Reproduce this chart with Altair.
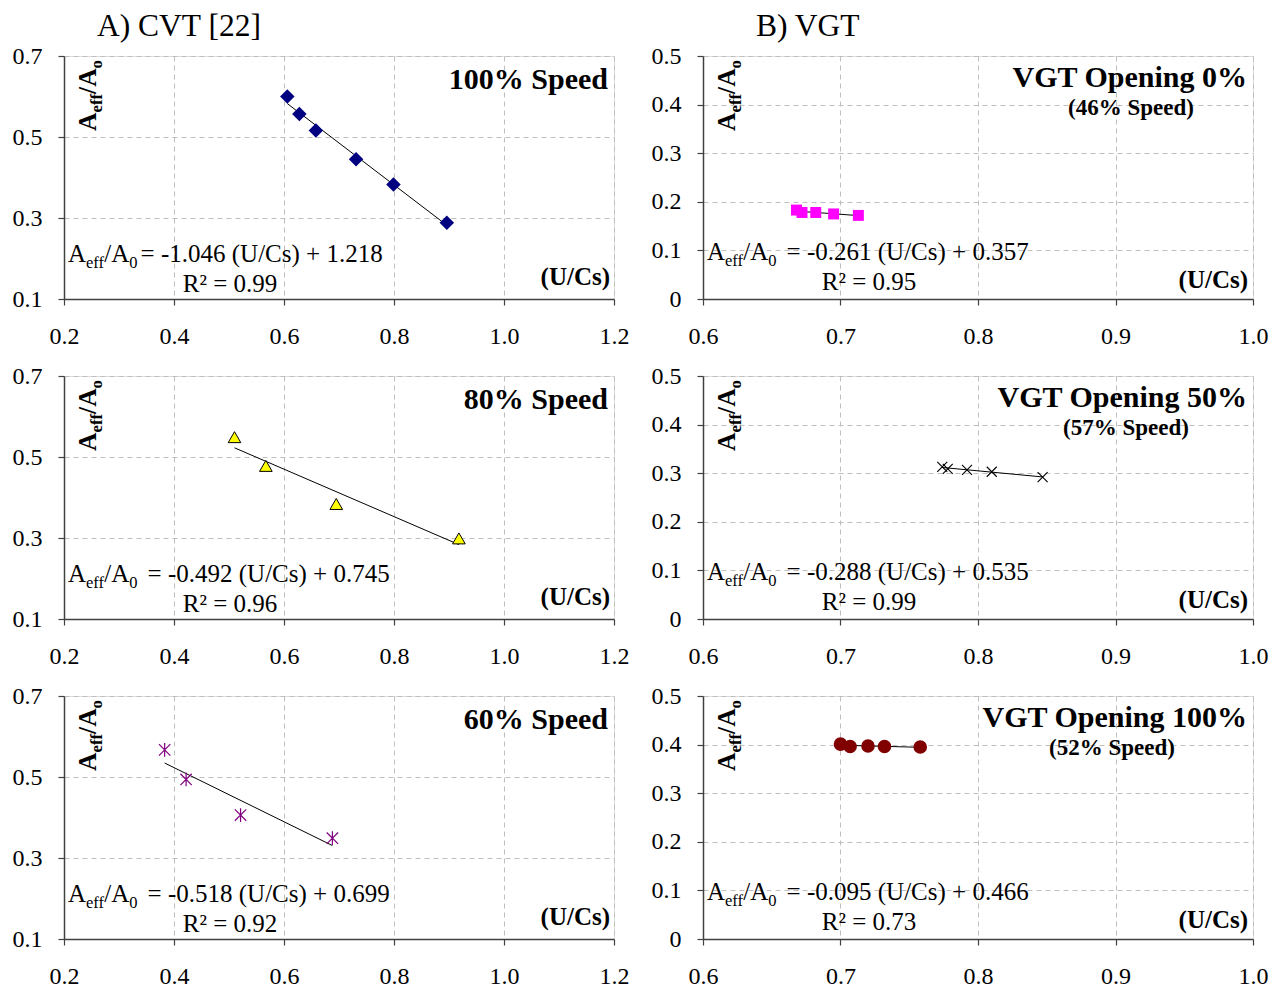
import altair as alt
import pandas as pd

# ---------------- data ----------------
a1_x = [0.606, 0.628, 0.658, 0.731, 0.799, 0.896]
a1_y = [0.600, 0.557, 0.516, 0.445, 0.383, 0.288]
a2_x = [0.510, 0.567, 0.695, 0.918]
a2_y = [0.549, 0.478, 0.384, 0.299]
a3_x = [0.383, 0.422, 0.521, 0.688]
a3_y = [0.567, 0.494, 0.406, 0.349]
b1_x = [0.668, 0.672, 0.682, 0.695, 0.713]
b1_y = [0.183, 0.178, 0.178, 0.175, 0.172]
b2_x = [0.774, 0.778, 0.792, 0.810, 0.847]
b2_y = [0.313, 0.309, 0.307, 0.303, 0.292]
b3_x = [0.700, 0.707, 0.720, 0.732, 0.758]
b3_y = [0.401, 0.396, 0.397, 0.396, 0.395]

speed_labels = ["100% Speed", "80% Speed", "60% Speed"]
vgt_labels = ["VGT Opening 0%", "VGT Opening 50%", "VGT Opening 100%"]
vgt_speed = ["(46% Speed)", "(57% Speed)", "(52% Speed)"]
eq_a = ["= -1.046 (U/Cs) + 1.218", "= -0.492 (U/Cs) + 0.745", "= -0.518 (U/Cs) + 0.699"]
eq_b = ["= -0.261 (U/Cs) + 0.357", "= -0.288 (U/Cs) + 0.535", "= -0.095 (U/Cs) + 0.466"]
r2_a = ["0.99", "0.96", "0.92"]
r2_b = ["0.95", "0.99", "0.73"]
x_ticks_a = [0.2, 0.4, 0.6, 0.8, 1.0, 1.2]
y_ticks_a = [0.1, 0.3, 0.5, 0.7]
x_ticks_b = [0.6, 0.7, 0.8, 0.9, 1.0]
y_ticks_b = [0.0, 0.1, 0.2, 0.3, 0.4, 0.5]
titles = ["A)  CVT [22]", "B) VGT"]

# ---------------- styling ----------------
FONT = "Liberation Serif"
W, H = 550, 243
TICK_FS = 24
EQ_FS = 25

REG = {' ': 250, '(': 333, ')': 333, '+': 564, '-': 333, '.': 250, '/': 278, '=': 564,
       'A': 722, 'C': 667, 'R': 667, 'U': 722, 'e': 444, 'f': 333, 's': 389, 'o': 500,
       '²': 300}
BOLD = {' ': 250, '(': 333, ')': 333, '/': 278, '%': 1000, 'A': 722, 'C': 722, 'U': 722,
        'e': 444, 'f': 333, 's': 389, 'o': 500}


def tw(t, fs, bold=False):
    table = BOLD if bold else REG
    return sum(table.get(c, 500) for c in t) / 1000.0 * fs


def txt(t, x, y, fs, bold=False, align="left", angle=0, baseline="alphabetic"):
    kw = dict(text=t, font=FONT, fontSize=fs, align=align, baseline=baseline, color="black")
    if bold:
        kw["fontWeight"] = "bold"
    if angle:
        kw["angle"] = angle
    return alt.Chart(pd.DataFrame({"k": [0]})).mark_text(**kw).encode(
        x=alt.value(x), y=alt.value(y))


def equation(eq, x0, y0, gap):
    parts = [("A", "n"), ("eff", "s"), ("/A", "n"), ("0", "s"), (eq, "g")]
    out = []
    x = x0
    for t, k in parts:
        if k == "s":
            fs = EQ_FS * 0.66
            out.append(txt(t, x, y0 + EQ_FS * 0.22, fs))
        else:
            if k == "g":
                x += EQ_FS * gap
            fs = EQ_FS
            out.append(txt(t, x, y0, fs))
        x += tw(t, fs)
    return out


def ylabel(x0, y0, fs=25.5):
    parts = [("A", "n"), ("eff", "s"), ("/A", "n"), ("o", "s")]
    out = []
    a = 0
    for t, k in parts:
        if k == "s":
            f = fs * 0.66
            out.append(txt(t, x0 + fs * 0.22, y0 - a, f, bold=True, angle=270))
        else:
            f = fs
            out.append(txt(t, x0, y0 - a, f, bold=True, angle=270))
        a += tw(t, f, bold=True)
    return out


def axis_x(vals):
    return alt.Axis(values=vals, format=".1f", title=None, grid=True, gridDash=[5, 4],
                    gridColor="#BEBEBE", gridWidth=1, domainColor="#404040", domainWidth=1.5,
                    tickColor="#404040", tickSize=6, tickWidth=1.2, labelFont=FONT,
                    labelFontSize=TICK_FS, labelColor="black", labelPadding=19,
                    labelOverlap=False, labelFlush=False)


def axis_y(vals):
    return alt.Axis(values=vals, title=None, grid=True, gridDash=[5, 4],
                    gridColor="#BEBEBE", gridWidth=1, domainColor="#404040", domainWidth=1.5,
                    tickColor="#404040", tickSize=6, tickWidth=1.2, labelFont=FONT,
                    labelFontSize=TICK_FS, labelColor="black", labelPadding=16,
                    labelOverlap=False, labelFlush=False,
                    labelExpr="datum.value == 0 ? '0' : format(datum.value, '.1f')")


def panel(xs, ys, xdom, ydom, xt, yt, point_kw, texts):
    df = pd.DataFrame({"x": xs, "y": ys})
    X = alt.X("x:Q", scale=alt.Scale(domain=xdom, nice=False, zero=False), axis=axis_x(xt))
    Y = alt.Y("y:Q", scale=alt.Scale(domain=ydom, nice=False, zero=False), axis=axis_y(yt))
    pts = alt.Chart(df).mark_point(opacity=1, **point_kw).encode(x=X, y=Y)
    line = alt.Chart(df).transform_regression("x", "y").mark_line(
        color="black", strokeWidth=1).encode(x="x:Q", y="y:Q")
    return alt.layer(line, pts, *texts).properties(width=W, height=H)


def left_texts(i):
    t = []
    t += ylabel(32, 75)
    t.append(txt(speed_labels[i], 544, 33, 30, bold=True, align="right"))
    t += equation(eq_a[i], 4, 206, 0.12 if i == 0 else 0.4)
    t.append(txt("R² = " + r2_a[i], 166, 236, EQ_FS, align="center"))
    t.append(txt("(U/Cs)", 546, 229, 25, bold=True, align="right"))
    return t


def right_texts(i, sp_x):
    t = []
    t += ylabel(32, 75)
    t.append(txt(vgt_labels[i], 544, 31, 30, bold=True, align="right"))
    t.append(txt(vgt_speed[i], sp_x, 59, 23, bold=True, align="center"))
    t += equation(eq_b[i], 4, 204, 0.4)
    t.append(txt("R² = " + r2_b[i], 166, 234, EQ_FS, align="center"))
    t.append(txt("(U/Cs)", 545, 232, 25, bold=True, align="right"))
    return t


diamond = dict(shape="diamond", filled=True, color="#000080", size=210)
square = dict(shape="square", filled=True, color="#FF00FF", size=120)
triangle = dict(shape="triangle-up", filled=True, fill="#FFFF00", stroke="#000000",
                strokeWidth=1, size=160)
star = dict(shape="M-1,-1L1,1M-1,1L1,-1M0,-1.2L0,1.2", filled=False, color="#800080",
            strokeWidth=1.2, size=130)
xmark = dict(shape="M-1,-1L1,1M-1,1L1,-1", filled=False, color="#000000",
             strokeWidth=1.1, size=100)
circle = dict(shape="circle", filled=True, color="#800000", size=185)

A1 = panel(a1_x, a1_y, [0.2, 1.2], [0.1, 0.7], x_ticks_a, y_ticks_a, diamond,
           left_texts(0) + [txt(titles[0], 33, -20, 31.5)])
B1 = panel(b1_x, b1_y, [0.6, 1.0], [0.0, 0.5], x_ticks_b, y_ticks_b, square,
           right_texts(0, 428) + [txt(titles[1], 53, -20, 31.5)])
A2 = panel(a2_x, a2_y, [0.2, 1.2], [0.1, 0.7], x_ticks_a, y_ticks_a, triangle, left_texts(1))
B2 = panel(b2_x, b2_y, [0.6, 1.0], [0.0, 0.5], x_ticks_b, y_ticks_b, xmark,
           right_texts(1, 423))
A3 = panel(a3_x, a3_y, [0.2, 1.2], [0.1, 0.7], x_ticks_a, y_ticks_a, star, left_texts(2))
B3 = panel(b3_x, b3_y, [0.6, 1.0], [0.0, 0.5], x_ticks_b, y_ticks_b, circle,
           right_texts(2, 409))

chart = alt.concat(A1, B1, A2, B2, A3, B3, columns=2,
                   spacing={"row": 77, "column": 89}, bounds="flush").properties(
    padding={"left": 3, "top": 2, "right": 5, "bottom": 5}
).configure_view(stroke=None).configure(background="white")

chart.save("out.html", embed_options={"renderer": "svg", "actions": False})
